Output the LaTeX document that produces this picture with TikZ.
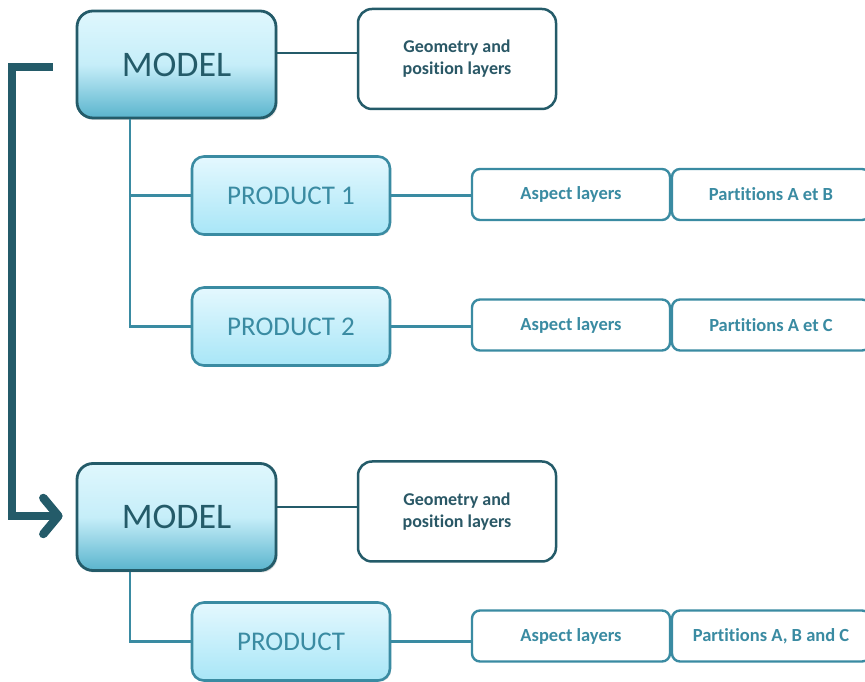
\documentclass[tikz,border=0pt]{standalone}
\usepackage{fontspec}
\setmainfont{Carlito}[Ligatures={NoCommon}]
\usetikzlibrary{arrows.meta,shadows,calc}
\definecolor{dark}{HTML}{245B69}
\definecolor{darktext}{HTML}{2A5866}
\definecolor{mid}{HTML}{3A8BA2}
\definecolor{mtop}{HTML}{DFF7FD}
\definecolor{mmid}{HTML}{C6EEF9}
\definecolor{mbot}{HTML}{5AB4CD}
\definecolor{ptop}{HTML}{E4F8FE}
\definecolor{pbot}{HTML}{A8E6F7}
\tikzset{
  modelbox/.style={rectangle, rounded corners=16pt, draw=dark, line width=2.8pt,
    top color=mtop, bottom color=mbot, middle color=mmid,
    minimum width=199pt, minimum height=107pt, text=dark,
    font=\fontsize{36}{40}\selectfont,
    drop shadow={opacity=0.25, shadow xshift=1.5pt, shadow yshift=-2pt}},
  geobox/.style={rectangle, rounded corners=14pt, draw=dark, line width=2.5pt, fill=white,
    minimum width=198pt, minimum height=100pt, text=darktext, align=center,
    font=\bfseries\fontsize{18}{22}\selectfont},
  prodbox/.style={rectangle, rounded corners=12pt, draw=mid, line width=2.6pt,
    top color=ptop, bottom color=pbot,
    minimum width=198pt, minimum height=78pt, text=mid,
    font=\fontsize{27}{30}\selectfont,
    drop shadow={opacity=0.2, shadow xshift=1.2pt, shadow yshift=-1.5pt}},
  aspbox/.style={rectangle, rounded corners=8pt, draw=mid, line width=2.4pt, fill=white,
    minimum width=198pt, minimum height=51pt, text=mid,
    font=\bfseries\fontsize{18.5}{20}\selectfont},
  darkline/.style={draw=dark, line width=2.8pt},
  midline/.style={draw=mid, line width=2.4pt},
  bigarrow/.style={draw=dark, line width=8.5pt, line join=miter,
    -{Straight Barb[length=15pt, width=36pt, round]}}
}
\begin{document}
\begin{tikzpicture}[x=1pt,y=1pt]
\useasboundingbox (0,0) rectangle (865,682);
\clip (0,0) rectangle (865,682);
\fill[white] (0,0) rectangle (865,682);
% top group
\node[modelbox] (m1) at (176.5,617.5) {MODEL};
\node[geobox] (g1) at (457,623) {Geometry and\\position layers};
\node[prodbox] (p1) at (291,486.5) {PRODUCT 1};
\node[prodbox] (p2) at (291,355.5) {PRODUCT 2};
\node[aspbox] (a1) at (571,487.5) {Aspect layers};
\node[aspbox] (b1) at (771,487.5) {Partitions A et B};
\node[aspbox] (a2) at (571,357) {Aspect layers};
\node[aspbox] (b2) at (771,357) {Partitions A et C};
% bottom group
\node[modelbox] (m2) at (176.5,165) {MODEL};
\node[geobox] (g2) at (457,170.5) {Geometry and\\position layers};
\node[prodbox] (p3) at (291,40.5) {PRODUCT};
\node[aspbox] (a3) at (571,46) {Aspect layers};
\node[aspbox] (b3) at (771,46) {Partitions A, B and C};
% connectors top
\draw[darkline] ([yshift=11.5pt]m1.east) -- ([yshift=11.5pt]m1.east -| g1.west);
\coordinate (t1) at ([xshift=-46.5pt]m1.south);
\draw[midline] (t1) |- (p2.west);
\draw[midline] (t1 |- p1.west) -- (p1.west);
\draw[midline] (p1.east) -- (p1.east -| a1.west);
\draw[midline] (p2.east) -- (p2.east -| a2.west);
% connectors bottom
\draw[darkline] ([yshift=10pt]m2.east) -- ([yshift=10pt]m2.east -| g2.west);
\coordinate (t2) at ([xshift=-46.5pt]m2.south);
\draw[midline] (t2) |- (p3.west);
\draw[midline] (p3.east) -- (p3.east -| a3.west);
% big arrow
\coordinate (as) at ([xshift=-23pt,yshift=-2.5pt]m1.west);
\coordinate (ae) at ([xshift=-13pt,yshift=1pt]m2.west);
\draw[bigarrow] (as) -- (12,0 |- as) |- (ae);
\end{tikzpicture}
\end{document}
